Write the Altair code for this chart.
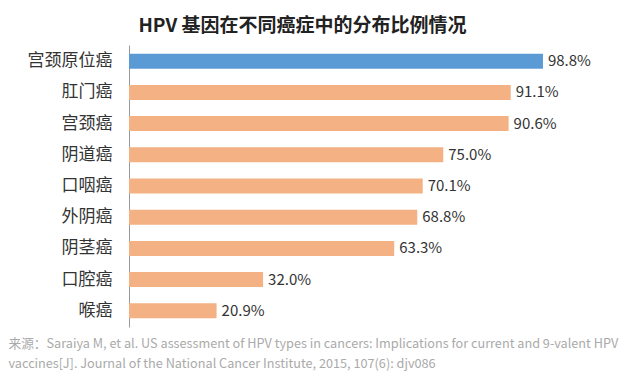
import altair as alt
import pandas as pd

categories = ["宫颈原位癌", "肛门癌", "宫颈癌", "阴道癌", "口咽癌", "外阴癌", "阴茎癌", "口腔癌", "喉癌"]
values = [98.8, 91.1, 90.6, 75.0, 70.1, 68.8, 63.3, 32.0, 20.9]
highlight = ["yes", "no", "no", "no", "no", "no", "no", "no", "no"]
title_text = "HPV 基因在不同癌症中的分布比例情况"
source_lines = [
    "来源：Saraiya M, et al. US assessment of HPV types in cancers: Implications for current and 9-valent HPV",
    "vaccines[J]. Journal of the National Cancer Institute, 2015, 107(6): djv086",
]

df = pd.DataFrame({"cat": categories, "val": values, "hl": highlight})
df["label"] = df["val"].map(lambda v: f"{v:.1f}%")

FONT = "Noto Sans CJK SC"

y = alt.Y("cat:N", sort=categories,
          scale=alt.Scale(paddingInner=0.52, paddingOuter=0.28),
          axis=alt.Axis(title=None, labelFontSize=17, labelColor="#333", labelFont=FONT,
                        ticks=False, labelPadding=17, domainColor="#999", domainWidth=1))
x = alt.X("val:Q", scale=alt.Scale(domain=[0, 100]),
          axis=alt.Axis(labels=False, ticks=False, grid=False, domain=False,
                        title=source_lines, titleFont=FONT, titleFontSize=12.7,
                        titleFontWeight="normal", titleColor="#aaa", titleAlign="left",
                        titleAnchor="start", titleX=-121, titleY=10, titleBaseline="top",
                        titleLineHeight=20))

bars = alt.Chart(df).mark_bar().encode(
    x=x, y=y,
    color=alt.Color("hl:N", scale=alt.Scale(domain=["yes", "no"], range=["#5b9bd5", "#f4b183"]), legend=None),
)
text = alt.Chart(df).mark_text(align="left", dx=5, fontSize=15, font=FONT, color="#333").encode(
    x="val:Q", y=alt.Y("cat:N", sort=categories), text="label:N"
)

chart = (bars + text).properties(
    width=419, height=282,
    autosize=alt.AutoSizeParams(type="none"),
    padding={"left": 121, "top": 37, "right": 84, "bottom": 50},
    background="white",
    title=alt.TitleParams(title_text, font=FONT, fontSize=19, fontWeight="bold", color="#222",
                          anchor="middle", dx=-36, offset=9),
).configure_view(stroke=None)

chart.save("out.html", embed_options={"renderer": "svg", "actions": False})
